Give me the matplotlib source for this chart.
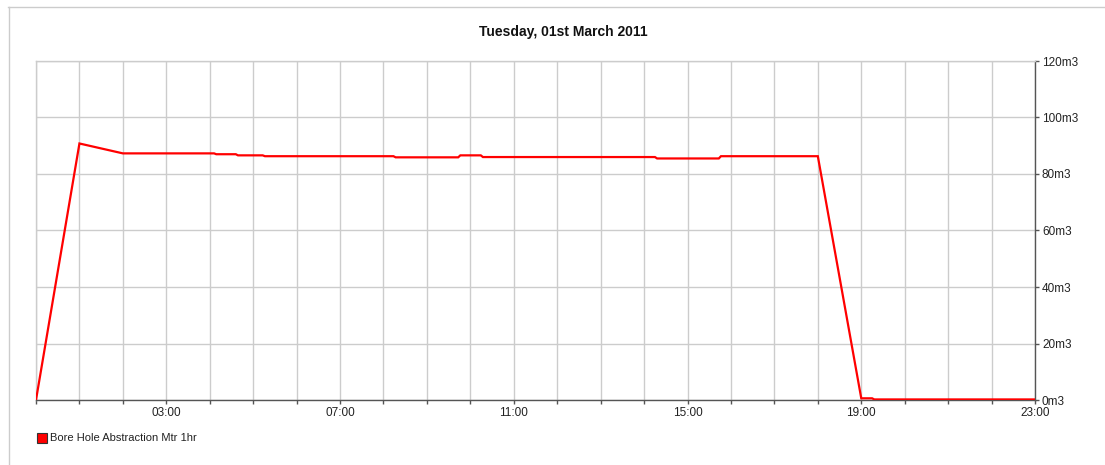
import matplotlib
matplotlib.use("Agg")
import matplotlib.pyplot as plt
from matplotlib.lines import Line2D
from matplotlib.patches import Rectangle

plt.rcParams['font.family'] = ['Liberation Sans', 'DejaVu Sans']

# Data (hours of day, m3 per hour)
hours = [0, 1, 2, 4.1, 4.15, 4.6, 4.65, 5.22, 5.27, 8.23, 8.28, 9.72, 9.77,
         10.24, 10.29, 14.25, 14.3, 15.72, 15.77, 18, 19, 19.25, 19.3, 23]
values = [0, 90.8, 87.3, 87.3, 87.0, 87.0, 86.6, 86.6, 86.3, 86.3, 85.9, 85.9, 86.6,
          86.6, 86.0, 86.0, 85.5, 85.5, 86.3, 86.3, 0.6, 0.6, 0.2, 0.2]
series_name = "Bore Hole Abstraction Mtr 1hr"
title = "Tuesday, 01st March 2011"
xtick_hours = [3, 7, 11, 15, 19, 23]
xtick_labels = ["03:00", "07:00", "11:00", "15:00", "19:00", "23:00"]
ytick_values = [0, 20, 40, 60, 80, 100, 120]
ytick_labels = [f"{v}m3" for v in ytick_values]

W, H = 1105, 465
fig = plt.figure(figsize=(W / 100, H / 100), dpi=100)
fig.patch.set_facecolor('white')

ax = fig.add_axes([36 / W, 65 / H, (1035 - 36) / W, (400 - 61) / H])
ax.set_xlim(0, 23)
ax.set_ylim(0, 120)

grid_c = '#cccccc'
for h in range(0, 24):
    ax.axvline(h, color=grid_c, lw=1, zorder=1)
for v in ytick_values:
    ax.axhline(v, color=grid_c, lw=1, zorder=1)

ax.plot(hours, values, color='#ff0000', lw=1.6, zorder=3, solid_joinstyle='miter')

ax.set_xticks(range(0, 24))
ax.set_xticklabels([xtick_labels[xtick_hours.index(h)] if h in xtick_hours else "" for h in range(24)])
ax.yaxis.tick_right()
ax.set_yticks(ytick_values)
ax.set_yticklabels(ytick_labels)
ax.tick_params(axis='both', direction='out', length=3, width=1, color='#555555',
               labelsize=8.5, labelcolor='#222222', pad=2)

for s in ['top', 'left']:
    ax.spines[s].set_color(grid_c)
    ax.spines[s].set_linewidth(1)
for s in ['bottom', 'right']:
    ax.spines[s].set_color('#555555')
    ax.spines[s].set_linewidth(1)

fig.text(563 / W, 1 - 32 / H, title, ha='center', va='center', fontsize=10,
         fontweight='bold', color='#111111')

# Outer border (top and left visible)
fig.add_artist(Line2D([8 / W, 1.0], [1 - 7.5 / H, 1 - 7.5 / H], color='#cccccc', lw=1))
fig.add_artist(Line2D([8.5 / W, 8.5 / W], [0, 1 - 7.5 / H], color='#cccccc', lw=1))

# Legend
fig.add_artist(Rectangle((36.5 / W, 1 - 442.5 / H), 10 / W, 10 / H, facecolor='#ff0000',
                         edgecolor='#333333', lw=0.8))
fig.text(50 / W, 1 - 437.5 / H, series_name, ha='left', va='center', fontsize=8,
         color='#222222')

fig.savefig('out.png', dpi=100, facecolor='white')
